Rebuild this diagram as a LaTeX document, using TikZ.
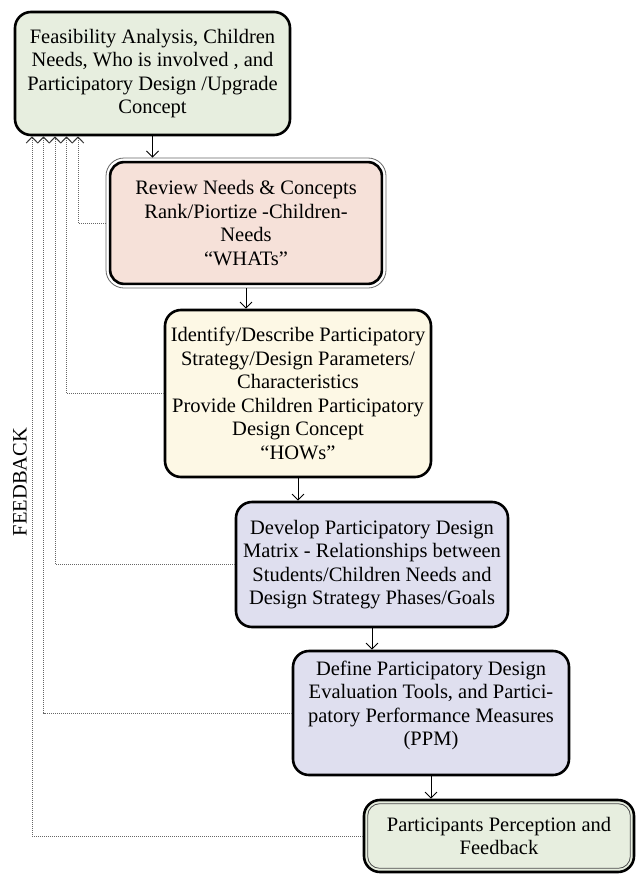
\documentclass[tikz,border=0pt]{standalone}
\usepackage{fontspec}
\setmainfont{Liberation Serif}
\usetikzlibrary{arrows.meta,backgrounds}
\newcommand\boxfont{\fontsize{20.5}{23.5}\selectfont}
\definecolor{gfill}{HTML}{E7EEDF}
\definecolor{pfill}{HTML}{F6E1D9}
\definecolor{yfill}{HTML}{FDF8E5}
\definecolor{lfill}{HTML}{DFDFEF}
\begin{document}
\begin{tikzpicture}[x=1pt,y=-1pt,
  stepbox/.style={draw=black, rounded corners=16pt, line width=2.6pt, align=center, inner sep=0pt, font=\boxfont},
  thinbox/.style={draw=black!60, rounded corners=18pt, line width=0.8pt, align=center, inner sep=0pt, font=\boxfont},
  arr/.style={-{Straight Barb[length=6pt,width=12pt]}, line width=0.9pt},
  fb/.style={draw=black!60, line width=1pt, dash pattern=on 1pt off 1pt, -{Straight Barb[length=6pt,width=11.5pt,color=black!80]}}
]
\useasboundingbox (0,0) rectangle (636,875);
% boxes
\node[stepbox, fill=gfill, minimum width=275pt, minimum height=123pt] (b1) at (152.5,73.5)
  {Feasibility Analysis, Children\\Needs, Who is involved , and\\Participatory Design /Upgrade\\Concept};
\node[thinbox, minimum width=280pt, minimum height=130pt] (b2) at (246,223)
  {Review Needs \& Concepts\\Rank/Piortize -Children-\\Needs\\“WHATs”};
\begin{pgfonlayer}{background}
\draw[line width=2.6pt, rounded corners=14pt, fill=pfill] ([shift={(4.5pt,-4.5pt)}]b2.north west) rectangle ([shift={(-4.5pt,4.5pt)}]b2.south east);
\end{pgfonlayer}
\node[stepbox, fill=yfill, minimum width=266pt, minimum height=167pt] (b3) at (298,393.5)
  {Identify/Describe Participatory\\Strategy/Design Parameters/\\Characteristics\\Provide Children Participatory\\Design Concept\\“HOWs”};
\node[stepbox, fill=lfill, minimum width=272pt, minimum height=125pt] (b4) at (372,564.5)
  {Develop Participatory Design\\Matrix - Relationships between\\Students/Children Needs and\\Design Strategy Phases/Goals};
\node[stepbox, fill=lfill, minimum width=276pt, minimum height=124pt] (b5) at (431,713)
  {Define Participatory Design\\Evaluation Tools, and Partici-\\patory Performance Measures\\(PPM)\\[-4pt]};
\node[stepbox, fill=gfill, minimum width=270pt, minimum height=72pt] (b6) at (499,836)
  {Participants Perception and\\Feedback};
\draw[line width=0.8pt, draw=black!70, rounded corners=12pt] ([shift={(5pt,-5pt)}]b6.north west) rectangle ([shift={(-5pt,5pt)}]b6.south east);
% flow arrows
\draw[arr] (b1.south) -- (b1.south |- b2.north);
\draw[arr] (b2.south) -- (b2.south |- b3.north);
\draw[arr] (b3.south) -- (b3.south |- b4.north);
\draw[arr] (b4.south) -- (b4.south |- b5.north);
\draw[arr] (b5.south) -- (b5.south |- b6.north);
% feedback lines
\coordinate (f1) at (32,0);
\coordinate (f2) at (43.5,0);
\coordinate (f3) at (55,0);
\coordinate (f4) at (66.5,0);
\coordinate (f5) at (78,0);
\draw[fb] (b2.west) -| (f5 |- b1.south);
\draw[fb] (b3.west) -| (f4 |- b1.south);
\draw[fb] (b4.west) -| (f3 |- b1.south);
\draw[fb] (b5.west) -| (f2 |- b1.south);
\draw[fb] (b6.west) -| (f1 |- b1.south);
\node[rotate=90, font=\boxfont, inner sep=0pt] (fbl) at (20,482) {FEEDBACK};
\end{tikzpicture}
\end{document}
